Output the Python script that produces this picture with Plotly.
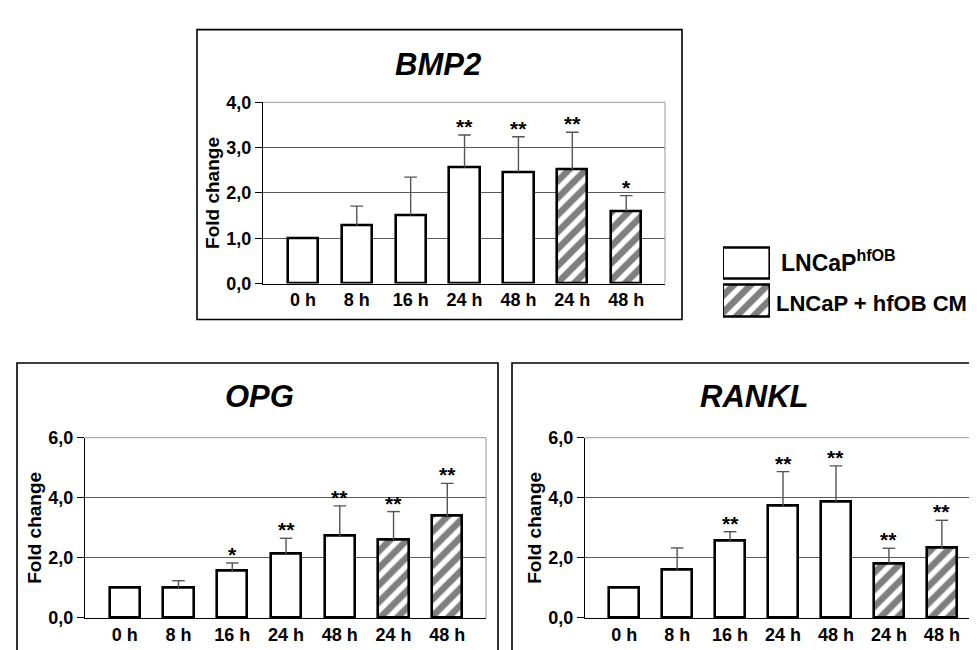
import plotly.graph_objects as go

W, H = 977, 650

labels = ["0 h", "8 h", "16 h", "24 h", "48 h", "24 h", "48 h"]
groups = ["LNCaP<sup>hfOB</sup>"] * 5 + ["LNCaP + hfOB CM"] * 2

bmp2_mean = [1.00, 1.28, 1.50, 2.56, 2.46, 2.52, 1.60]
bmp2_err = [0.00, 0.43, 0.85, 0.72, 0.78, 0.82, 0.34]
bmp2_sig = ["", "", "", "**", "**", "**", "*"]

opg_mean = [1.00, 1.00, 1.56, 2.14, 2.73, 2.60, 3.39]
opg_err = [0.00, 0.24, 0.27, 0.51, 1.00, 0.94, 1.09]
opg_sig = ["", "", "*", "**", "**", "**", "**"]

rankl_mean = [1.00, 1.61, 2.57, 3.73, 3.87, 1.82, 2.33]
rankl_err = [0.00, 0.72, 0.30, 1.14, 1.19, 0.50, 0.92]
rankl_sig = ["", "", "**", "**", "**", "**", "**"]

FONT = "Liberation Sans, Arial, sans-serif"
HATCH = dict(fgcolor="black", bgcolor="white", size=12, solidity=0.55)

def px(x):
    return x / W

def py(y):
    return 1 - y / H

panels = [
    dict(name="BMP2", mean=bmp2_mean, err=bmp2_err, sig=bmp2_sig, ymax=4, dtick=1,
         xd=(255, 657), yd=(87, 274), box=(189, 12, 674, 311), title=(430, 48)),
    dict(name="OPG", mean=opg_mean, err=opg_err, sig=opg_sig, ymax=6, dtick=2,
         xd=(77, 478), yd=(433, 619), box=(9, 356, 490, 680), title=(251, 391)),
    dict(name="RANKL", mean=rankl_mean, err=rankl_err, sig=rankl_sig, ymax=6, dtick=2,
         xd=(577, 972), yd=(433, 619), box=(504, 356, 995, 680), title=(746, 391)),
]

fig = go.Figure()
shapes = []
annotations = []
xpos = list(range(len(labels)))
hatch = ["/" if g != groups[0] else "" for g in groups]

for i, p in enumerate(panels):
    n = "" if i == 0 else str(i + 1)
    xa, ya = "x" + n, "y" + n
    fig.add_trace(go.Bar(
        x=xpos, y=p["mean"], xaxis=xa, yaxis=ya, width=0.56,
        marker=dict(color="white", line=dict(color="black", width=2.6),
                    pattern=dict(shape=hatch, **HATCH)),
        error_y=dict(type="data", symmetric=False, array=p["err"],
                     arrayminus=[0] * len(labels), color="#555555", thickness=1.4, width=0),
        showlegend=False, hoverinfo="skip"))
    cx = [x for x, e in zip(xpos, p["err"]) if e > 0]
    cy = [m + e for m, e in zip(p["mean"], p["err"]) if e > 0]
    fig.add_trace(go.Scatter(
        x=cx, y=cy, xaxis=xa, yaxis=ya, mode="markers",
        marker=dict(symbol="line-ew", size=9, line=dict(color="#555555", width=1.4)),
        showlegend=False, hoverinfo="skip"))
    for x, m, e, s in zip(xpos, p["mean"], p["err"], p["sig"]):
        if s:
            annotations.append(dict(x=x, y=m + e, xref=xa, yref=ya, text=s, showarrow=False,
                                    yanchor="bottom", yshift=-5,
                                    font=dict(family=FONT, size=21, color="black", weight="bold")))
    fig.update_layout(**{
        ("xaxis" + n): dict(domain=[px(p["xd"][0]), px(p["xd"][1])], range=[-0.74, 6.72],
                            tickmode="array", tickvals=xpos, ticktext=labels,
                            showgrid=False, zeroline=False, showline=True, linecolor="black",
                            linewidth=1, ticks="", anchor=ya, fixedrange=True,
                            tickfont=dict(family=FONT, size=18, color="black", weight="bold")),
        ("yaxis" + n): dict(domain=[py(p["yd"][1]), py(p["yd"][0])], range=[0, p["ymax"]],
                            dtick=p["dtick"], tickformat=".1f", showgrid=True,
                            gridcolor="#5a5a5a", gridwidth=1, zeroline=False,
                            showline=True, linecolor="black", linewidth=1,
                            ticks="outside", ticklen=7, tickcolor="black", anchor=xa,
                            fixedrange=True,
                            tickfont=dict(family=FONT, size=18, color="black", weight="bold")),
    })
    # plot area top and right borders
    shapes.append(dict(type="line", xref=xa + " domain", yref=ya + " domain",
                       x0=0, x1=1, y0=1, y1=1, line=dict(color="#999999", width=1)))
    shapes.append(dict(type="line", xref=xa + " domain", yref=ya + " domain",
                       x0=1, x1=1, y0=0, y1=1, line=dict(color="#999999", width=1)))
    # panel frame
    bx0, by0, bx1, by1 = p["box"]
    shapes.append(dict(type="rect", xref="paper", yref="paper",
                       x0=px(bx0), x1=px(bx1), y0=py(by1), y1=py(by0),
                       line=dict(color="black", width=1.6)))
    # title
    annotations.append(dict(x=px(p["title"][0]), y=py(p["title"][1]), xref="paper", yref="paper",
                            text=p["name"], showarrow=False, xanchor="center", yanchor="middle",
                            font=dict(family=FONT, size=31, color="black", weight="bold",
                                      style="italic")))
    # y axis title
    annotations.append(dict(x=px(p["xd"][0] - 50), y=py((p["yd"][0] + p["yd"][1]) / 2),
                            xref="paper", yref="paper", text="Fold change", textangle=-90,
                            showarrow=False, xanchor="center", yanchor="middle",
                            font=dict(family=FONT, size=19, color="black", weight="bold")))

# legend swatches on a hidden axis
fig.add_trace(go.Bar(
    x=[1, 1], y=[0, 1], orientation="h", xaxis="x4", yaxis="y4", width=0.84,
    marker=dict(color="white", line=dict(color="black", width=2.6),
                pattern=dict(shape=["/", ""], **HATCH)),
    showlegend=False, hoverinfo="skip"))
fig.update_layout(
    xaxis4=dict(domain=[px(715), px(762)], range=[0, 1], visible=False, fixedrange=True, anchor="y4"),
    yaxis4=dict(domain=[py(311), py(234)], range=[-0.5, 1.5], visible=False, fixedrange=True, anchor="x4"),
)
annotations.append(dict(x=px(771), y=py(251), xref="paper", yref="paper", text=groups[0],
                        showarrow=False, xanchor="left", yanchor="middle",
                        font=dict(family=FONT, size=23, color="black", weight="bold")))
annotations.append(dict(x=px(766), y=py(295), xref="paper", yref="paper", text=groups[-1],
                        showarrow=False, xanchor="left", yanchor="middle",
                        font=dict(family=FONT, size=22, color="black", weight="bold")))

fig.update_layout(
    width=W, height=H, margin=dict(l=0, r=0, t=0, b=0),
    paper_bgcolor="white", plot_bgcolor="white",
    separators=",.", bargap=0, shapes=shapes, annotations=annotations,
    font=dict(family=FONT, color="black"),
)

fig.write_html("out.html")
